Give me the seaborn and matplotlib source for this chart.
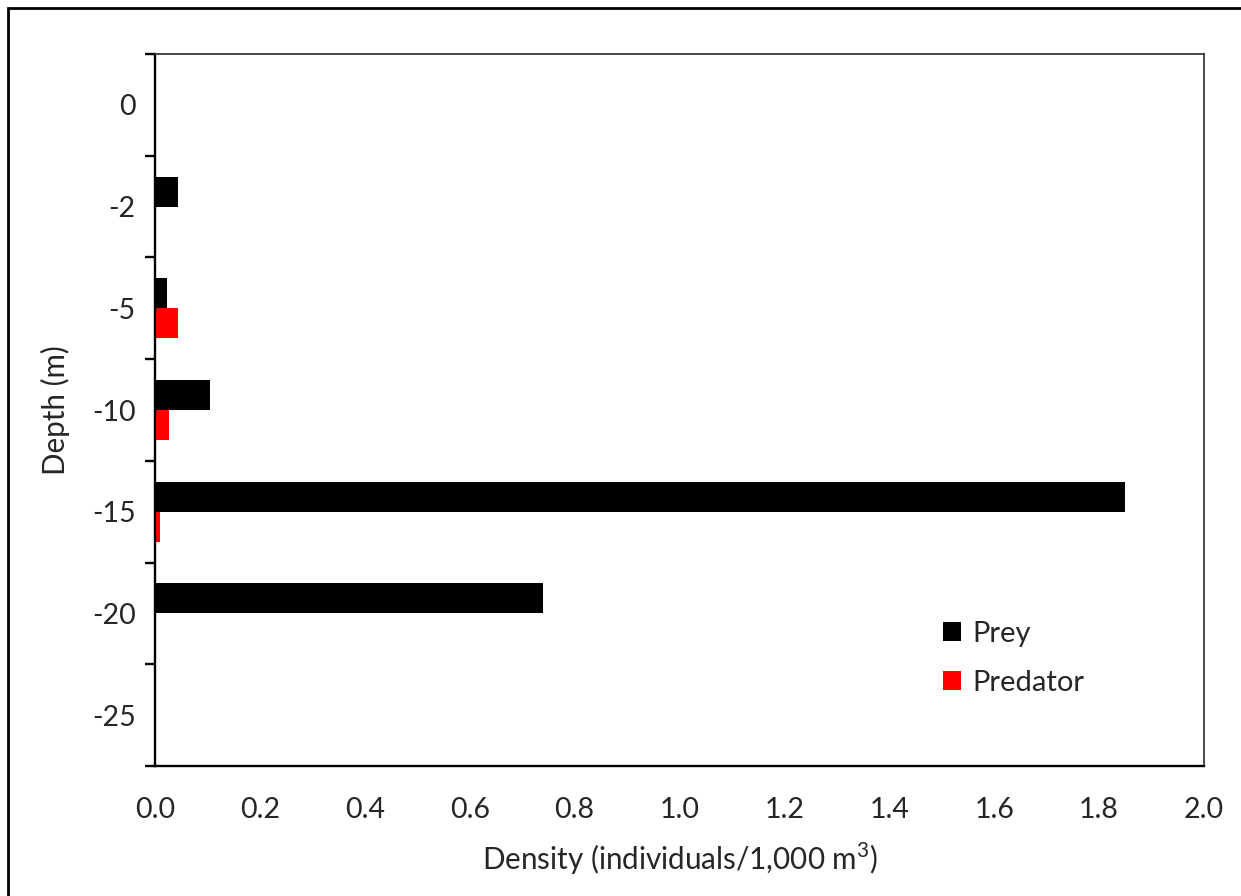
import numpy as np
import pandas as pd
import matplotlib
matplotlib.use("Agg")
import matplotlib.pyplot as plt
from matplotlib.patches import Rectangle
from matplotlib.ticker import FixedLocator
import seaborn as sns

# Sampling depths (m) and densities (individuals / 1,000 m^3)
depths = ["0", "-2", "-5", "-10", "-15", "-20", "-25"]
prey = [0.0, 0.044, 0.022, 0.105, 1.85, 0.74, 0.0]
predator = [0.0, 0.0, 0.044, 0.027, 0.010, 0.0, 0.0]
groups = ["Prey", "Predator"]
x_ticks = [0.0, 0.2, 0.4, 0.6, 0.8, 1.0, 1.2, 1.4, 1.6, 1.8, 2.0]

df = pd.DataFrame({
    "Depth": depths * 2,
    "Density": prey + predator,
    "Group": [groups[0]] * len(depths) + [groups[1]] * len(depths),
})

sns.set_style("white")
plt.rcParams["font.family"] = ["Lato", "DejaVu Sans"]
plt.rcParams["mathtext.fontset"] = "custom"
plt.rcParams["mathtext.rm"] = "Lato"

W, H = 1241, 896
fig = plt.figure(figsize=(W / 100, H / 100), dpi=100)
ax = fig.add_axes([155 / W, 1 - 766 / H, (1204 - 155) / W, (766 - 54) / H])

sns.barplot(
    data=df, y="Depth", x="Density", hue="Group",
    order=depths, hue_order=groups,
    palette={"Prey": "#000000", "Predator": "#ff0000"},
    orient="h", width=0.59, linewidth=0, saturation=1,
    ax=ax,
)

ax.set_xlim(0, 2.0)
ax.set_ylim(len(depths) - 0.5, -0.5)
ax.set_xticks(x_ticks)
ax.set_xticklabels([f"{v:.1f}" for v in x_ticks], fontsize=20.5)
ax.tick_params(axis="x", length=0, pad=22)

# labels centred on categories, tick marks on category boundaries
ax.set_yticks(range(len(depths)))
ax.set_yticklabels(depths, fontsize=20.5)
ax.tick_params(axis="y", which="major", length=0, pad=14)
ax.yaxis.set_minor_locator(FixedLocator(np.arange(-0.5, len(depths), 1.0)))
ax.tick_params(axis="y", which="minor", length=7.5, width=1.7,
               direction="out", color="black", left=True)

ax.set_xlabel("Density (individuals/1,000 m$^3$)", fontsize=21.3, labelpad=13)
ax.set_ylabel("Depth (m)", fontsize=21.3, labelpad=16)

for side in ["left", "bottom"]:
    ax.spines[side].set_color("black")
    ax.spines[side].set_linewidth(1.7)
for side in ["top", "right"]:
    ax.spines[side].set_color("#3a3a3a")
    ax.spines[side].set_linewidth(1.3)

handles, labels = ax.get_legend_handles_labels()
ax.legend(
    handles, labels, loc="upper left", bbox_to_anchor=(0.751, 0.204),
    frameon=False, fontsize=21, handlelength=0.62, handleheight=0.62,
    handletextpad=0.4, labelspacing=0.78, borderaxespad=0, borderpad=0,
)

# outer frame of the figure
fig.patches.append(Rectangle((8 / W, -0.05), 1.2, 1 - 8 / H + 0.05,
                             transform=fig.transFigure, fill=False,
                             edgecolor="black", linewidth=2.0))

fig.savefig("out.png", dpi=100)
